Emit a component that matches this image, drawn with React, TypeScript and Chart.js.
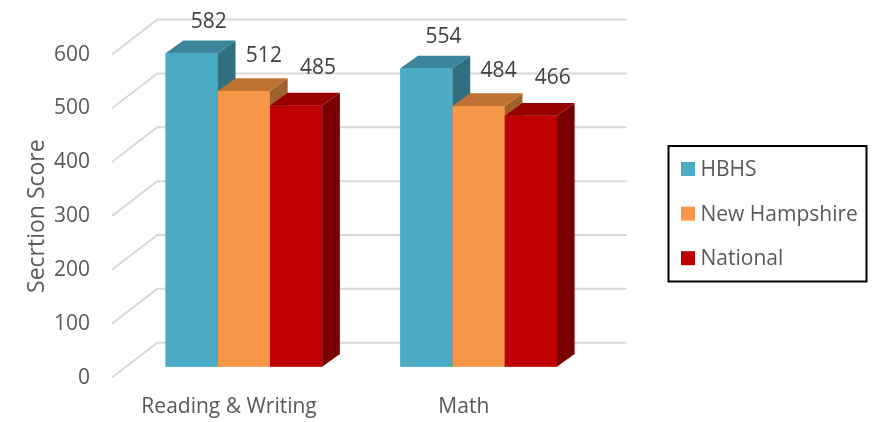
import { useEffect, useRef } from 'react';
import { Chart, registerables } from 'chart.js';

Chart.register(...registerables);

// Section scores by test section
const categories = ['Reading & Writing', 'Math'];
const seriesNames = ['HBHS', 'New Hampshire', 'National'];
const hbhs = [582, 554];
const newHampshire = [512, 484];
const national = [485, 466];
const yTickValues = [0, 100, 200, 300, 400, 500, 600];
const yAxisTitle = 'Secrtion Score';

// face colours for the extruded bars
const FRONT = ['#4BACC6', '#F79646', '#C00000'];
const TOP = ['#3A8599', '#BE7334', '#960000'];
const SIDE = ['#30707E', '#A0622C', '#7A0000'];

const FONT = '"Open Sans", sans-serif';
const TEXT = '#595959';

// oblique projection offsets (pixels) relative to the plane the bars stand in
const BAR_DEPTH = { x: 17.7, y: -12.7 };
const WALL_BACK = { x: 30.8, y: -24 };
const WALL_FRONT = { x: -14.8, y: 11 };
const LABEL_SHIFT = [
  { x: 17, y: -31.5 },
  { x: 20, y: -35 },
  { x: 22, y: -37.5 },
];

type Pt = [number, number];

function poly(ctx: CanvasRenderingContext2D, pts: Pt[], fill: string) {
  ctx.beginPath();
  ctx.moveTo(pts[0][0], pts[0][1]);
  for (let i = 1; i < pts.length; i++) ctx.lineTo(pts[i][0], pts[i][1]);
  ctx.closePath();
  ctx.fillStyle = fill;
  ctx.fill();
}

const extrudePlugin = {
  id: 'extrude3d',
  beforeDatasetsDraw(chart: any) {
    const { ctx, chartArea, scales } = chart;
    const y = scales.y;
    const x = scales.x;
    ctx.save();
    // side-wall and back-wall gridlines
    ctx.strokeStyle = '#D9D9D9';
    ctx.lineWidth = 2;
    yTickValues.forEach((v) => {
      const py = y.getPixelForValue(v);
      ctx.beginPath();
      ctx.moveTo(chartArea.left + WALL_FRONT.x, py + WALL_FRONT.y);
      ctx.lineTo(chartArea.left + WALL_BACK.x, py + WALL_BACK.y);
      ctx.lineTo(chartArea.right + WALL_BACK.x, py + WALL_BACK.y);
      ctx.stroke();
    });
    // value axis labels on the front edge of the side wall
    ctx.font = `21px ${FONT}`;
    ctx.fillStyle = TEXT;
    ctx.textAlign = 'right';
    ctx.textBaseline = 'middle';
    yTickValues.forEach((v) => {
      const py = y.getPixelForValue(v);
      ctx.fillText(String(v), 90, py + WALL_FRONT.y);
    });
    // category labels on the front edge of the floor
    ctx.textAlign = 'center';
    categories.forEach((c, i) => {
      ctx.fillText(c, x.getPixelForValue(i) + WALL_FRONT.x, 407);
    });
    ctx.restore();
  },
  afterDatasetsDraw(chart: any) {
    const { ctx } = chart;
    const metas = chart.data.datasets.map((_: any, i: number) => chart.getDatasetMeta(i));
    const n = chart.data.labels.length;
    ctx.save();
    for (let c = 0; c < n; c++) {
      metas.forEach((meta: any, s: number) => {
        const bar = meta.data[c];
        const { x, y, base, width } = bar.getProps(['x', 'y', 'base', 'width'], true);
        const L = x - width / 2;
        const R = x + width / 2;
        const dx = BAR_DEPTH.x;
        const dy = BAR_DEPTH.y;
        ctx.fillStyle = FRONT[s];
        ctx.fillRect(L, y, width, base - y);
        poly(ctx, [[R, y], [R + dx, y + dy], [R + dx, base + dy], [R, base]], SIDE[s]);
        poly(ctx, [[L, y], [R, y], [R + dx, y + dy], [L + dx, y + dy]], TOP[s]);
      });
    }
    // value labels above each bar
    ctx.font = `21px ${FONT}`;
    ctx.fillStyle = '#404040';
    ctx.textAlign = 'center';
    ctx.textBaseline = 'middle';
    metas.forEach((meta: any, s: number) => {
      const values = chart.data.datasets[s].data;
      meta.data.forEach((bar: any, c: number) => {
        const { x, y } = bar.getProps(['x', 'y'], true);
        ctx.fillText(String(values[c]), x + LABEL_SHIFT[s].x, y + LABEL_SHIFT[s].y);
      });
    });
    ctx.restore();
  },
  afterDraw(chart: any) {
    const { ctx, chartArea } = chart;
    ctx.save();
    // value axis title, centred on the front edge of the side wall
    ctx.font = `23px ${FONT}`;
    ctx.fillStyle = TEXT;
    ctx.textAlign = 'center';
    ctx.textBaseline = 'middle';
    ctx.translate(37, (chartArea.top + chartArea.bottom) / 2 + WALL_FRONT.y);
    ctx.rotate(-Math.PI / 2);
    ctx.fillText(yAxisTitle, 0, 0);
    ctx.restore();

    // boxed legend
    ctx.save();
    const bx = 668.5, by = 146, bw = 198, bh = 135.5;
    ctx.strokeStyle = '#000000';
    ctx.lineWidth = 2;
    ctx.strokeRect(bx, by, bw, bh);
    ctx.font = `21px ${FONT}`;
    ctx.textAlign = 'left';
    ctx.textBaseline = 'middle';
    chart.data.datasets.forEach((ds: any, i: number) => {
      const cy = 169 + i * 44.6;
      ctx.fillStyle = ds.backgroundColor;
      ctx.fillRect(681, cy - 7, 14, 14);
      ctx.fillStyle = TEXT;
      ctx.fillText(ds.label, 700.5, cy + 1);
    });
    ctx.restore();
  },
};

export default function App() {
  const ref = useRef<HTMLCanvasElement | null>(null);

  useEffect(() => {
    if (!ref.current) return;
    const seriesValues = [hbhs, newHampshire, national];
    const chart = new Chart(ref.current, {
      type: 'bar',
      data: {
        labels: categories,
        datasets: seriesNames.map((name, i) => ({
          label: name,
          data: seriesValues[i],
          backgroundColor: FRONT[i],
          borderWidth: 0,
          categoryPercentage: 0.667,
          barPercentage: 1,
        })),
      },
      options: {
        responsive: true,
        maintainAspectRatio: false,
        animation: false,
        // plot plane of the bar fronts
        layout: { padding: { left: 126.5, right: 282, top: 43.6, bottom: 55.3 } },
        plugins: {
          legend: { display: false },
          tooltip: { enabled: false },
          title: { display: false },
        },
        scales: {
          x: { display: false },
          y: { display: false, min: 0, max: 600 },
        },
      },
      plugins: [extrudePlugin],
    });
    return () => chart.destroy();
  }, []);

  return (
    <div style={{ position: 'absolute', left: 0, top: 0, width: 878, height: 422, background: '#ffffff' }}>
      <canvas ref={ref} />
    </div>
  );
}
